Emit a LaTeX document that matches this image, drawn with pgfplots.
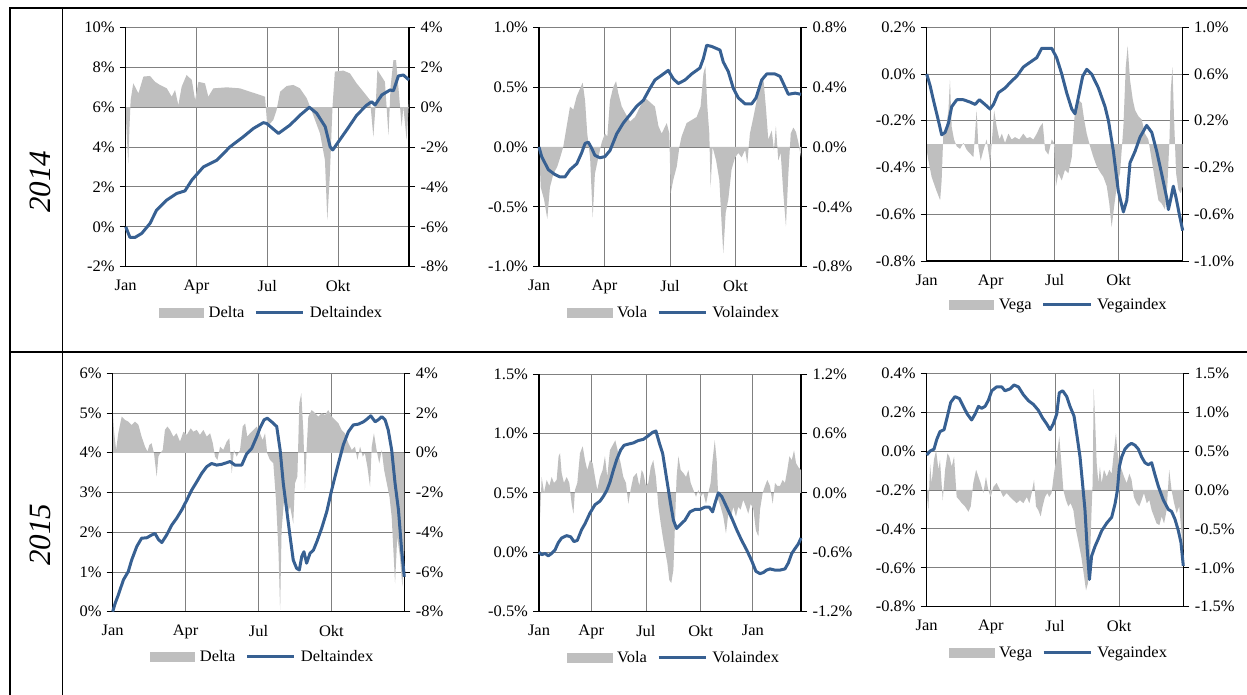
\documentclass[border=0pt]{standalone}
\usepackage{fontspec}
\setmainfont{Liberation Serif}
\newfontfamily\lblfont{Liberation Serif}[FakeStretch=1.03]
\usepackage{pgfplots}
\pgfplotsset{compat=1.18}

\definecolor{areagray}{RGB}{191,191,191}
\definecolor{idxblue}{RGB}{55,96,146}
\definecolor{gridgray}{RGB}{128,128,128}

\newcommand\lbl{\lblfont\fontsize{16}{17}\selectfont}

\pgfplotsset{
  base/.style={scale only axis, xmin=0, xmax=12, anchor=south west,
    tick align=outside, major tick length=6pt,
    ytick style={draw=black, line width=0.9pt},
    axis line style={line width=1.4pt},
    tick label style={font=\lbl}},
  % area series, right axis, grid and month labels
  areaax/.style={base, axis x line*=bottom, axis y line*=right,
    xtick={0,3,6,9}, xticklabels={Jan,Apr,Jul,Okt},
    xtick style={draw=none},
    xticklabel style={yshift=-4pt},
    yticklabel style={xshift=2pt},
    grid=major, major grid style={draw=gridgray, line width=0.8pt}},
  % index line, left axis, legend below
  lineax/.style={base, axis x line=none, axis y line*=left, clip=false,
    yticklabel style={xshift=-1.5pt},
    legend cell align=left,
    legend style={draw=none, fill=none, legend columns=2, font=\lbl,
      at={(0.5,0)}, anchor=center, xshift=4pt, inner sep=0pt, nodes={inner sep=2pt},
      /tikz/every odd column/.append style={column sep=3pt},
      /tikz/every even column/.append style={column sep=8pt}}},
  arealeg/.style={legend image code/.code={\fill[areagray] (0pt,-4.5pt) rectangle (44.7pt,4.5pt);}},
  idxline/.style={idxblue, line width=3pt, line join=round,
    legend image code/.code={\draw[idxblue, line width=3pt] (0pt,0pt) -- (47.4pt,0pt);}},
  areafill/.style={draw=none, fill=areagray},
}

\begin{document}
\begin{tikzpicture}
\useasboundingbox (0pt,0pt) rectangle (1247pt,695pt);

% table rules
\draw[line width=1.8pt] (10pt,0pt) -- (10pt,687pt) -- (1247pt,687pt);
\draw[line width=1.8pt] (62.5pt,0pt) -- (62.5pt,687pt);
\draw[line width=1.8pt] (10pt,343pt) -- (1247pt,343pt);
\node[rotate=90, font=\fontsize{31}{31}\selectfont\itshape] at (40pt,513.3pt) {2014};
\node[rotate=90, font=\fontsize{31}{31}\selectfont\itshape] at (40pt,160pt) {2015};

%%%%%%%%%%%%%%%% 2014 Delta
\begin{axis}[areaax, at={(125.7pt,428.3pt)}, width=283.3pt, height=239.4pt,
  ymin=-8, ymax=4, ytick={-8,-6,-4,-2,0,2,4},
  yticklabels={-8\%,-6\%,-4\%,-2\%,0\%,2\%,4\%}]
\addplot[areafill] coordinates {(0,-0.31) (0.05,-1.5) (0.11,-2.82) (0.16,-1.0) (0.21,0.35) (0.32,1.19) (0.54,0.69) (0.75,1.53) (1.03,1.56) (1.24,1.27) (1.45,1.11) (1.74,0.94) (1.95,0.52) (2.09,0.86) (2.23,0.10) (2.37,1.02) (2.58,1.61) (2.80,1.36) (2.94,0.35) (3.08,1.27) (3.36,1.19) (3.50,0.52) (3.71,0.94) (4.28,0.99) (4.84,0.94) (5.27,0.77) (5.69,0.61) (5.90,0.52) (6.00,-0.98) (6.25,-0.65) (6.39,-0.15) (6.54,0.77) (6.82,1.06) (7.10,1.11) (7.38,0.94) (7.67,0.44) (7.81,0.02) (8.02,-0.65) (8.23,-1.32) (8.44,-2.66) (8.54,-5.67) (8.65,-3.32) (8.76,0.02) (8.86,1.78) (9.22,1.83) (9.50,1.69) (9.78,1.19) (10.07,0.77) (10.35,0.35) (10.49,-1.49) (10.60,0.35) (10.66,1.86) (10.84,1.53) (10.98,1.27) (11.13,-1.40) (11.22,1.02) (11.34,2.36) (11.45,2.36) (11.55,1.02) (11.69,-0.98) (11.76,0.02) (11.90,-1.65) (12,0.35)} \closedcycle;
\end{axis}
\begin{axis}[lineax, at={(125.7pt,428.3pt)}, width=283.3pt, height=239.4pt,
  ymin=-2, ymax=10, ytick={-2,0,2,4,6,8,10},
  yticklabels={-2\%,0\%,2\%,4\%,6\%,8\%,10\%}, legend style={yshift=-46pt}]
\addlegendimage{arealeg}
\addlegendentry{Delta}
\addplot[idxline] coordinates {(0,0) (0.18,-0.53) (0.40,-0.53) (0.68,-0.33) (1.03,0.17) (1.31,0.84) (1.74,1.34) (2.16,1.67) (2.51,1.80) (2.80,2.34) (3.29,3.00) (3.86,3.34) (4.42,4.01) (4.99,4.52) (5.41,4.93) (5.83,5.22) (5.97,5.18) (6.47,4.68) (6.96,5.10) (7.39,5.60) (7.78,5.99) (8.09,5.69) (8.45,5.02) (8.66,4.01) (8.77,3.85) (9.01,4.26) (9.36,4.85) (9.79,5.60) (10.21,6.10) (10.42,6.27) (10.56,6.10) (10.85,6.61) (11.20,6.86) (11.34,6.82) (11.55,7.56) (11.76,7.61) (12,7.36)};
\addlegendentry{Deltaindex}
\end{axis}

%%%%%%%%%%%%%%%% 2014 Vola
\begin{axis}[areaax, at={(539pt,428.3pt)}, width=262pt, height=239.4pt,
  ymin=-0.8, ymax=0.8, ytick={-0.8,-0.4,0,0.4,0.8},
  yticklabels={-0.8\%,-0.4\%,0.0\%,0.4\%,0.8\%}]
\addplot[areafill] coordinates {(0,0) (0.08,-0.27) (0.23,-0.35) (0.38,-0.48) (0.50,-0.27) (0.66,-0.18) (0.84,-0.13) (0.99,-0.06) (1.11,0) (1.27,0.14) (1.42,0.27) (1.57,0.25) (1.73,0.34) (1.88,0.39) (2.00,0.43) (2.11,0.31) (2.21,0.09) (2.34,-0.07) (2.46,-0.47) (2.56,-0.18) (2.72,-0.07) (2.87,0.03) (3.02,0.09) (3.13,0.07) (3.25,0.31) (3.40,0.40) (3.53,0.44) (3.63,0.36) (3.79,0.27) (3.94,0.23) (4.17,0.17) (4.40,0.20) (4.63,0.27) (4.85,0.33) (5.08,0.30) (5.31,0.27) (5.47,0.14) (5.62,0.09) (5.85,0.16) (5.97,0.09) (6.03,-0.31) (6.15,-0.22) (6.31,-0.13) (6.43,0) (6.53,0.07) (6.76,0.16) (6.99,0.18) (7.22,0.20) (7.40,0.27) (7.53,0.49) (7.62,0.54) (7.71,0.27) (7.80,0.09) (7.86,-0.27) (7.95,0) (8.11,-0.09) (8.26,-0.22) (8.37,-0.53) (8.44,-0.71) (8.55,-0.44) (8.67,-0.35) (8.82,-0.15) (8.98,-0.07) (9.13,-0.04) (9.28,-0.07) (9.44,-0.02) (9.54,-0.11) (9.66,0.09) (9.82,0.20) (9.97,0.31) (10.15,0.43) (10.27,0.47) (10.40,0.25) (10.50,0.05) (10.66,0.11) (10.76,-0.02) (10.85,0.14) (10.96,-0.09) (11.07,-0.04) (11.19,-0.31) (11.31,-0.53) (11.42,-0.18) (11.53,0.09) (11.65,0.13) (11.77,0.10) (11.88,0.03) (12,-0.07)} \closedcycle;
\end{axis}
\begin{axis}[lineax, at={(539pt,428.3pt)}, width=262pt, height=239.4pt,
  ymin=-1, ymax=1, ytick={-1,-0.5,0,0.5,1},
  yticklabels={-1.0\%,-0.5\%,0.0\%,0.5\%,1.0\%}, legend style={yshift=-46pt}]
\addlegendimage{arealeg}
\addlegendentry{Vola}
\addplot[idxline] coordinates {(0,0) (0.12,-0.08) (0.43,-0.19) (0.73,-0.23) (0.96,-0.25) (1.19,-0.25) (1.42,-0.19) (1.73,-0.14) (1.95,-0.05) (2.11,0.03) (2.26,0.04) (2.41,-0.01) (2.56,-0.07) (2.79,-0.09) (3.02,-0.08) (3.25,-0.03) (3.56,0.11) (3.86,0.20) (4.17,0.27) (4.47,0.34) (4.78,0.39) (5.08,0.49) (5.31,0.56) (5.62,0.60) (5.92,0.64) (6.15,0.57) (6.38,0.53) (6.69,0.56) (6.99,0.61) (7.37,0.66) (7.53,0.74) (7.68,0.85) (7.91,0.84) (8.29,0.81) (8.44,0.71) (8.67,0.63) (8.90,0.49) (9.13,0.41) (9.44,0.36) (9.74,0.36) (9.94,0.41) (10.20,0.56) (10.43,0.61) (10.81,0.61) (11.04,0.59) (11.27,0.50) (11.42,0.44) (11.73,0.45) (12,0.44)};
\addlegendentry{Volaindex}
\end{axis}

%%%%%%%%%%%%%%%% 2014 Vega
\begin{axis}[areaax, at={(926.7pt,434pt)}, width=256pt, height=233.7pt,
  ymin=-1, ymax=1, ytick={-1,-0.6,-0.2,0.2,0.6,1},
  yticklabels={-1.0\%,-0.6\%,-0.2\%,0.2\%,0.6\%,1.0\%}]
\addplot[areafill] coordinates {(0,-0.05) (0.08,-0.14) (0.23,-0.28) (0.44,-0.39) (0.63,-0.48) (0.70,-0.31) (0.78,0.09) (0.91,0.15) (1.02,0.29) (1.09,0.55) (1.17,0.15) (1.28,0.04) (1.41,-0.02) (1.56,-0.04) (1.72,0.01) (1.88,-0.05) (2.03,-0.08) (2.19,-0.11) (2.34,0.29) (2.42,-0.02) (2.53,-0.14) (2.66,-0.05) (2.81,0.04) (2.97,-0.16) (3.05,0.01) (3.16,0.29) (3.28,0.15) (3.41,0.04) (3.52,0.09) (3.67,0.01) (3.83,0.09) (3.98,0.04) (4.14,0.06) (4.34,0.04) (4.53,0.09) (4.69,0.05) (4.84,0.06) (5.0,0.04) (5.16,0.09) (5.31,0.15) (5.44,0.18) (5.55,-0.05) (5.70,-0.09) (5.86,0.04) (5.97,0.01) (6.06,-0.36) (6.17,-0.25) (6.33,-0.31) (6.48,-0.22) (6.64,-0.25) (6.80,-0.11) (6.95,0.29) (7.11,0.38) (7.27,0.35) (7.38,0.21) (7.50,0.09) (7.66,-0.02) (7.81,-0.11) (7.97,-0.19) (8.13,-0.24) (8.28,-0.28) (8.44,-0.36) (8.56,-0.51) (8.67,-0.71) (8.78,-0.54) (8.91,-0.36) (9.06,-0.25) (9.22,0.15) (9.33,0.66) (9.42,0.84) (9.53,0.55) (9.66,0.38) (9.77,0.29) (9.92,0.24) (10.08,0.21) (10.23,0.09) (10.39,0.04) (10.55,-0.14) (10.70,-0.31) (10.86,-0.48) (11.02,-0.51) (11.17,-0.56) (11.28,-0.36) (11.38,0.04) (11.44,0.46) (11.52,0.66) (11.59,0.24) (11.69,-0.25) (11.80,-0.39) (11.91,-0.42) (12,-0.36)} \closedcycle;
\end{axis}
\begin{axis}[lineax, at={(926.7pt,434pt)}, width=256pt, height=233.7pt,
  ymin=-0.8, ymax=0.2, ytick={-0.8,-0.6,-0.4,-0.2,0,0.2},
  yticklabels={-0.8\%,-0.6\%,-0.4\%,-0.2\%,0.0\%,0.2\%}, legend style={yshift=-44pt}]
\addlegendimage{arealeg}
\addlegendentry{Vega}
\addplot[idxline] coordinates {(0,0) (0.16,-0.05) (0.31,-0.11) (0.55,-0.20) (0.70,-0.26) (0.86,-0.25) (1.02,-0.21) (1.17,-0.14) (1.41,-0.11) (1.72,-0.11) (2.03,-0.12) (2.27,-0.13) (2.47,-0.11) (2.73,-0.13) (2.97,-0.15) (3.13,-0.13) (3.36,-0.08) (3.67,-0.06) (3.98,-0.03) (4.22,-0.01) (4.53,0.03) (4.84,0.05) (5.16,0.07) (5.39,0.11) (5.63,0.11) (5.86,0.11) (6.09,0.07) (6.33,0) (6.56,-0.08) (6.80,-0.15) (6.95,-0.17) (7.11,-0.10) (7.31,-0.01) (7.50,0.02) (7.73,0) (8.05,-0.06) (8.36,-0.14) (8.52,-0.20) (8.75,-0.33) (8.98,-0.50) (9.22,-0.59) (9.38,-0.54) (9.53,-0.38) (9.77,-0.33) (10.0,-0.27) (10.31,-0.22) (10.55,-0.25) (10.78,-0.33) (11.02,-0.43) (11.25,-0.53) (11.33,-0.58) (11.45,-0.53) (11.56,-0.48) (11.69,-0.53) (11.84,-0.60) (12,-0.67)};
\addlegendentry{Vegaindex}
\end{axis}

%%%%%%%%%%%%%%%% 2015 Delta
\begin{axis}[areaax, at={(112.7pt,83.3pt)}, width=291.6pt, height=238.4pt,
  ymin=-8, ymax=4, ytick={-8,-6,-4,-2,0,2,4},
  yticklabels={-8\%,-6\%,-4\%,-2\%,0\%,2\%,4\%}]
\addplot[areafill] coordinates {(0,2.15) (0.05,1.15) (0.14,0.14) (0.23,0.98) (0.37,1.82) (0.51,1.65) (0.64,1.57) (0.78,1.40) (0.92,1.57) (1.06,1.40) (1.19,0.81) (1.33,0.31) (1.43,0.06) (1.51,0.39) (1.60,0.48) (1.70,-0.03) (1.81,-1.20) (1.88,-0.19) (1.95,-0.03) (2.06,0.14) (2.15,1.15) (2.25,1.32) (2.36,1.15) (2.50,0.81) (2.63,0.98) (2.77,0.56) (2.91,1.06) (3.05,0.90) (3.21,1.23) (3.32,1.06) (3.46,1.15) (3.59,0.90) (3.73,1.15) (3.87,0.81) (4.01,0.98) (4.12,0.48) (4.21,-0.19) (4.31,-0.36) (4.42,0.31) (4.55,0.14) (4.69,0.56) (4.80,0.73) (4.90,-1.03) (4.99,0.14) (5.10,-0.19) (5.24,0.14) (5.35,1.32) (5.45,1.48) (5.54,0.81) (5.65,0.98) (5.79,1.15) (5.93,1.32) (6.06,0.98) (6.17,0.64) (6.27,0.98) (6.36,-0.03) (6.47,-0.36) (6.61,-0.53) (6.72,-2.38) (6.82,-4.89) (6.89,-7.91) (6.95,-3.89) (7.05,-2.38) (7.16,-3.22) (7.30,-2.71) (7.43,-3.55) (7.50,-1.54) (7.60,-1.20) (7.68,2.49) (7.76,2.99) (7.85,0.98) (7.91,-1.87) (7.98,0.14) (8.05,1.82) (8.19,2.15) (8.33,1.99) (8.46,1.82) (8.60,1.99) (8.74,1.90) (8.87,2.15) (9.01,1.82) (9.15,1.65) (9.29,1.48) (9.42,1.15) (9.56,0.98) (9.70,0.48) (9.84,0.14) (9.97,0.31) (10.07,-0.36) (10.18,0.31) (10.29,-0.19) (10.38,-0.03) (10.48,-0.70) (10.59,-1.70) (10.66,0.31) (10.75,0.98) (10.86,0.14) (10.97,-0.53) (11.07,0.14) (11.17,-0.87) (11.28,-1.54) (11.39,-2.21) (11.48,-3.22) (11.55,-4.89) (11.62,-6.57) (11.71,-4.22) (11.82,-5.23) (11.92,-6.74) (12,-4.89)} \closedcycle;
\end{axis}
\begin{axis}[lineax, at={(112.7pt,83.3pt)}, width=291.6pt, height=238.4pt,
  ymin=0, ymax=6, ytick={0,1,2,3,4,5,6},
  yticklabels={0\%,1\%,2\%,3\%,4\%,5\%,6\%}, legend style={yshift=-45pt}]
\addlegendimage{arealeg}
\addlegendentry{Delta}
\addplot[idxline] coordinates {(0,0) (0.10,0.21) (0.23,0.42) (0.44,0.80) (0.64,1.01) (0.78,1.30) (0.99,1.64) (1.19,1.85) (1.40,1.86) (1.60,1.93) (1.74,1.97) (1.88,1.82) (2.02,1.74) (2.22,1.93) (2.43,2.18) (2.63,2.35) (2.84,2.56) (3.05,2.81) (3.25,3.06) (3.46,3.27) (3.66,3.48) (3.87,3.65) (4.07,3.73) (4.28,3.69) (4.49,3.71) (4.69,3.75) (4.83,3.78) (5.03,3.69) (5.31,3.69) (5.51,3.97) (5.72,4.11) (5.93,4.41) (6.06,4.62) (6.23,4.83) (6.36,4.87) (6.54,4.78) (6.75,4.66) (6.89,4.07) (7.02,3.23) (7.16,2.56) (7.30,1.89) (7.43,1.30) (7.57,1.09) (7.68,1.05) (7.78,1.39) (7.87,1.51) (7.98,1.22) (8.12,1.47) (8.26,1.55) (8.40,1.76) (8.60,2.10) (8.81,2.52) (9.01,3.06) (9.22,3.57) (9.49,4.20) (9.70,4.53) (9.90,4.70) (10.11,4.72) (10.32,4.78) (10.45,4.84) (10.62,4.93) (10.80,4.78) (10.93,4.83) (11.07,4.91) (11.21,4.83) (11.34,4.57) (11.48,4.07) (11.62,3.23) (11.76,2.56) (11.89,1.55) (12,0.88)};
\addlegendentry{Deltaindex}
\end{axis}

%%%%%%%%%%%%%%%% 2015 Vola (runs into the next year)
\begin{axis}[areaax, at={(539pt,83.3pt)}, width=262pt, height=237.7pt,
  xmax=14.7, xtick={0,2.93,6,9.07,12}, xticklabels={Jan,Apr,Jul,Okt,Jan},
  ymin=-1.2, ymax=1.2, ytick={-1.2,-0.6,0,0.6,1.2},
  yticklabels={-1.2\%,-0.6\%,0.0\%,0.6\%,1.2\%}]
\addplot[areafill] coordinates {(0,-0.07) (0.06,-0.24) (0.15,0.16) (0.28,0) (0.43,0.13) (0.58,0.07) (0.71,0.16) (0.84,0.10) (0.99,0.13) (1.10,0.37) (1.18,0.40) (1.27,0.20) (1.40,0.10) (1.55,0.16) (1.70,0.10) (1.83,-0.11) (1.93,-0.21) (2.02,0.03) (2.15,0.10) (2.30,0.40) (2.45,0.47) (2.58,0.33) (2.71,0.23) (2.86,0.33) (3.01,0.30) (3.14,0.16) (3.27,0.03) (3.42,0.16) (3.57,0.23) (3.70,0.37) (3.83,0.16) (3.98,0.43) (4.13,0.48) (4.28,0.53) (4.45,0.40) (4.58,0.30) (4.73,0.16) (4.88,0.10) (5.01,-0.11) (5.14,0.03) (5.29,0.16) (5.48,0.20) (5.63,0.07) (5.76,0.23) (5.85,0.20) (6.00,0.07) (6.13,0.10) (6.27,0.26) (6.41,0.33) (6.56,0.16) (6.70,-0.14) (6.83,-0.31) (6.94,-0.44) (7.07,-0.58) (7.20,-0.71) (7.31,-0.88) (7.42,-0.91) (7.54,-0.78) (7.63,-0.31) (7.72,0.16) (7.82,0.37) (7.95,0.23) (8.10,0.20) (8.25,0.16) (8.38,0.23) (8.51,0.10) (8.66,0.03) (8.81,-0.04) (8.94,0.03) (9.07,-0.04) (9.22,0) (9.37,-0.11) (9.50,0) (9.63,0.10) (9.74,0.33) (9.86,0.53) (9.97,0.33) (10.06,-0.07) (10.19,-0.14) (10.34,-0.24) (10.49,-0.41) (10.62,-0.21) (10.75,-0.27) (10.90,-0.14) (11.05,-0.24) (11.18,-0.14) (11.31,-0.17) (11.46,-0.07) (11.61,-0.14) (11.74,-0.21) (11.88,-0.11) (12.03,-0.17) (12.17,-0.38) (12.31,-0.44) (12.40,-0.17) (12.55,0) (12.68,0.07) (12.81,0.13) (12.96,0.07) (13.11,-0.11) (13.24,0.10) (13.37,0.07) (13.52,0.07) (13.67,0.13) (13.80,0.10) (13.93,0.23) (14.05,0.37) (14.18,0.33) (14.31,0.43) (14.42,0.30) (14.55,0.26) (14.70,0.23)} \closedcycle;
\end{axis}
\begin{axis}[lineax, at={(539pt,83.3pt)}, width=262pt, height=237.7pt, xmax=14.7,
  ymin=-0.5, ymax=1.5, ytick={-0.5,0,0.5,1,1.5},
  yticklabels={-0.5\%,0.0\%,0.5\%,1.0\%,1.5\%}, legend style={yshift=-46pt}]
\addlegendimage{arealeg}
\addlegendentry{Vola}
\addplot[idxline] coordinates {(0,0) (0.15,-0.02) (0.34,-0.01) (0.52,-0.03) (0.71,-0.01) (0.90,0.02) (1.08,0.08) (1.27,0.12) (1.55,0.14) (1.78,0.13) (1.96,0.09) (2.15,0.10) (2.39,0.19) (2.58,0.24) (2.86,0.33) (3.14,0.40) (3.42,0.43) (3.61,0.47) (3.80,0.52) (3.98,0.59) (4.17,0.69) (4.36,0.78) (4.58,0.86) (4.77,0.90) (5.01,0.91) (5.29,0.92) (5.57,0.94) (5.85,0.95) (6.13,0.98) (6.38,1.01) (6.56,1.02) (6.75,0.92) (6.94,0.83) (7.16,0.62) (7.35,0.44) (7.54,0.27) (7.72,0.20) (7.91,0.23) (8.19,0.27) (8.47,0.34) (8.75,0.36) (9.03,0.36) (9.31,0.38) (9.55,0.38) (9.74,0.34) (9.87,0.41) (10.06,0.50) (10.25,0.47) (10.53,0.38) (10.81,0.29) (11.09,0.19) (11.37,0.10) (11.65,0.02) (11.93,-0.07) (12.17,-0.16) (12.40,-0.18) (12.59,-0.17) (12.77,-0.15) (12.96,-0.14) (13.24,-0.15) (13.52,-0.15) (13.80,-0.14) (13.99,-0.09) (14.18,-0.01) (14.36,0.03) (14.55,0.07) (14.70,0.12)};
\addlegendentry{Volaindex}
\end{axis}

%%%%%%%%%%%%%%%% 2015 Vega
\begin{axis}[areaax, at={(926.7pt,88.3pt)}, width=256.6pt, height=233.4pt,
  ymin=-1.5, ymax=1.5, ytick={-1.5,-1,-0.5,0,0.5,1,1.5},
  yticklabels={-1.5\%,-1.0\%,-0.5\%,0.0\%,0.5\%,1.0\%,1.5\%}]
\addplot[areafill] coordinates {(0,-0.04) (0.08,-0.26) (0.16,0.34) (0.23,0.09) (0.34,0.39) (0.44,0.51) (0.55,0.26) (0.62,0.39) (0.75,-0.13) (0.86,0.26) (0.97,0.47) (1.06,0.43) (1.17,0.30) (1.28,0.43) (1.40,-0.09) (1.53,-0.13) (1.64,-0.17) (1.79,-0.21) (1.95,-0.28) (2.06,-0.21) (2.18,0.09) (2.31,0.26) (2.42,0.17) (2.52,0.09) (2.65,-0.04) (2.77,0.17) (2.88,0) (2.99,-0.09) (3.12,0.04) (3.27,0.09) (3.43,0) (3.58,-0.09) (3.74,-0.04) (3.90,-0.09) (4.05,-0.13) (4.21,-0.17) (4.36,-0.13) (4.52,-0.17) (4.68,-0.09) (4.80,-0.17) (4.91,-0.04) (5.02,0.13) (5.11,-0.21) (5.22,-0.26) (5.33,-0.34) (5.42,-0.21) (5.53,-0.09) (5.64,-0.04) (5.73,-0.09) (5.84,-0.04) (5.95,0.21) (6.08,0.43) (6.20,0.69) (6.30,0.34) (6.39,0) (6.51,-0.13) (6.62,-0.21) (6.73,-0.17) (6.86,-0.26) (6.98,-0.51) (7.11,-0.69) (7.23,-0.86) (7.36,-1.11) (7.45,-1.29) (7.54,-1.20) (7.64,-0.86) (7.71,-0.26) (7.76,0.09) (7.81,1.30) (7.87,0.94) (7.95,0.34) (8.03,0.09) (8.10,0.30) (8.18,0.09) (8.29,0.26) (8.42,0.17) (8.54,0.26) (8.65,0.21) (8.76,0.51) (8.85,0.73) (8.91,0.51) (9.01,0.34) (9.12,0.26) (9.23,0.17) (9.35,0.09) (9.48,0.21) (9.58,0.13) (9.69,-0.09) (9.82,-0.17) (9.94,-0.21) (10.05,-0.13) (10.16,-0.04) (10.29,-0.17) (10.41,-0.13) (10.52,-0.26) (10.63,-0.34) (10.75,-0.43) (10.88,-0.45) (10.99,-0.34) (11.10,-0.43) (11.22,-0.26) (11.34,0.26) (11.45,0) (11.57,-0.17) (11.69,-0.30) (11.81,-0.21) (11.93,-0.60) (12,-0.77)} \closedcycle;
\end{axis}
\begin{axis}[lineax, at={(926.7pt,88.3pt)}, width=256.6pt, height=233.4pt,
  ymin=-0.8, ymax=0.4, ytick={-0.8,-0.6,-0.4,-0.2,0,0.2,0.4},
  yticklabels={-0.8\%,-0.6\%,-0.4\%,-0.2\%,0.0\%,0.2\%,0.4\%}, legend style={yshift=-46pt}]
\addlegendimage{arealeg}
\addlegendentry{Vega}
\addplot[idxline] coordinates {(0,-0.02) (0.16,0) (0.34,0.01) (0.47,0.06) (0.62,0.10) (0.81,0.11) (0.97,0.18) (1.12,0.25) (1.32,0.28) (1.53,0.27) (1.71,0.23) (1.90,0.19) (2.10,0.16) (2.26,0.19) (2.42,0.23) (2.57,0.22) (2.73,0.23) (2.88,0.26) (3.04,0.31) (3.27,0.33) (3.51,0.33) (3.66,0.31) (3.90,0.32) (4.08,0.34) (4.29,0.33) (4.52,0.29) (4.75,0.26) (4.99,0.24) (5.22,0.21) (5.42,0.17) (5.61,0.14) (5.77,0.11) (5.92,0.14) (6.08,0.19) (6.20,0.30) (6.36,0.31) (6.55,0.28) (6.70,0.23) (6.89,0.18) (7.04,0.07) (7.17,-0.03) (7.29,-0.17) (7.40,-0.30) (7.51,-0.51) (7.61,-0.66) (7.71,-0.54) (7.87,-0.49) (8.03,-0.45) (8.18,-0.41) (8.42,-0.37) (8.65,-0.34) (8.81,-0.27) (8.92,-0.20) (9.01,-0.08) (9.12,-0.03) (9.27,0.01) (9.43,0.03) (9.58,0.04) (9.74,0.03) (9.90,0.01) (10.05,-0.03) (10.21,-0.06) (10.36,-0.07) (10.52,-0.06) (10.67,-0.12) (10.83,-0.18) (11.06,-0.25) (11.30,-0.30) (11.45,-0.31) (11.61,-0.35) (11.77,-0.41) (11.89,-0.47) (12,-0.59)};
\addlegendentry{Vegaindex}
\end{axis}
\end{tikzpicture}
\end{document}
